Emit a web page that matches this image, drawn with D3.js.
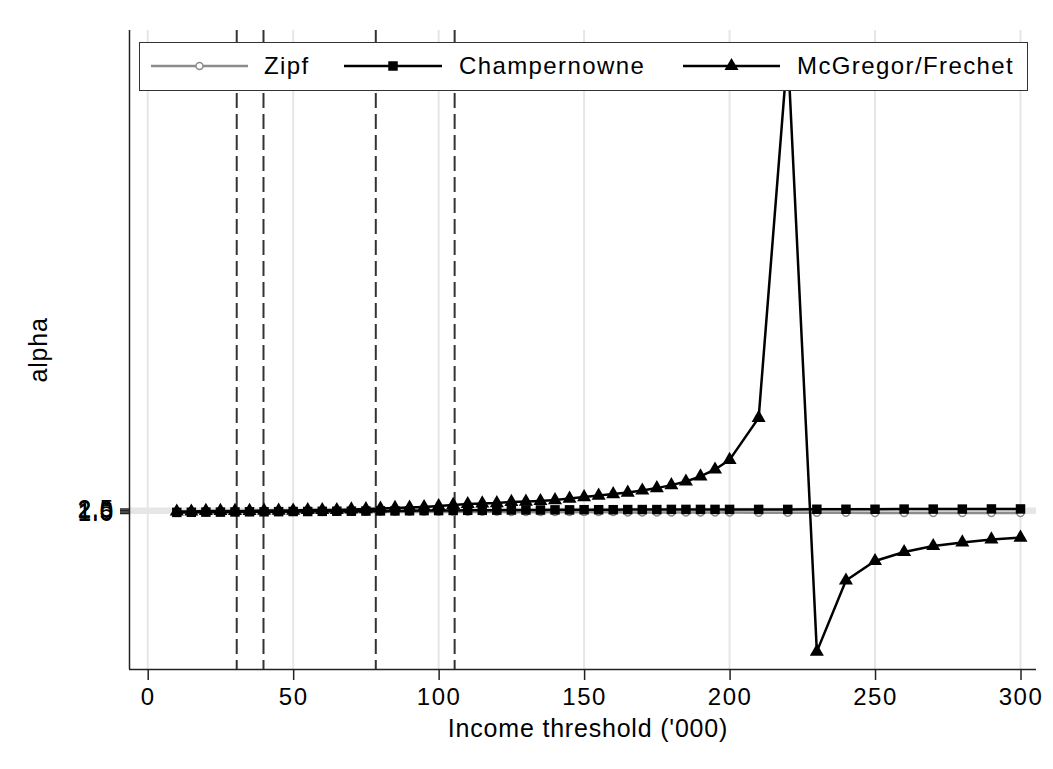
<!DOCTYPE html>
<html><head><meta charset="utf-8">
<script src="https://cdn.jsdelivr.net/npm/d3@7"></script>
<style>body{margin:0;background:#fff}svg{display:block;font-family:"Liberation Sans",Arial,sans-serif}</style>
</head><body>
<svg id="c" width="1053" height="769"></svg>
<script>
const thresholds = [10,15,20,25,30,35,40,45,50,55,60,65,70,75,80,85,90,95,100,105,110,115,120,125,130,135,140,145,150,155,160,165,170,175,180,185,190,195,200,210,220,230,240,250,260,270,280,290,300];
const zipf = [1.2,1.2,1.2,1.2,1.3,1.3,1.3,1.3,1.3,1.3,1.3,1.4,1.4,1.4,1.4,1.4,1.4,1.4,1.4,1.4,1.4,1.4,1.4,1.3,1.3,1.3,1.3,1.3,1.3,1.3,1.3,1.2,1.2,1.2,1.2,1.2,1.2,1.2,1.2,1.1,1.1,1.1,1.1,1.0,1.0,1.0,1.0,1.0,1.0];
const champernowne = [1.2,1.25,1.3,1.3,1.35,1.4,1.4,1.45,1.5,1.5,1.55,1.6,1.6,1.65,1.7,1.7,1.75,1.8,1.8,1.85,1.9,1.9,1.95,2.0,2.0,2.0,2.05,2.05,2.1,2.1,2.1,2.15,2.15,2.15,2.2,2.2,2.2,2.2,2.2,2.2,2.2,2.25,2.25,2.25,2.3,2.3,2.3,2.35,2.35];
const mcgregor = [1.5,1.5,1.7,1.7,1.7,1.7,1.8,1.8,1.8,2.0,2.0,2.0,2.2,2.3,2.5,2.7,2.8,3.0,3.3,3.7,4.0,4.2,4.3,4.7,4.8,5.0,5.3,5.8,6.3,6.8,7.3,7.8,8.5,9.3,10.3,11.5,13.2,15.5,18.7,32.7,155.3,-45.2,-21.5,-15.0,-12.0,-10.0,-8.8,-7.8,-7.2];
const xTicks = [0,50,100,150,200,250,300];
const yTicks = [1.0,1.5,2.0,2.5];
const yTickLabels = ["1.0","1.5","2.0","2.5"];
const cutoffs = [30.6,39.8,78.4,105.5];
const seriesNames = ["Zipf","Champernowne","McGregor/Frechet"];

const svg = d3.select("#c");
const L=129, R=1036, T=30, B=669;
const x = d3.scaleLinear().domain([0,300]).range([147.7,1020.5]);
const y = d3.scaleLinear().domain([-51,162]).range([B,T]);

// grid
svg.append("g").selectAll("line").data(xTicks).join("line")
  .attr("x1",d=>x(d)).attr("x2",d=>x(d)).attr("y1",T).attr("y2",B)
  .attr("stroke","#e6e6e6").attr("stroke-width",2);
svg.append("g").selectAll("line").data(yTicks).join("line")
  .attr("x1",L).attr("x2",R).attr("y1",d=>y(d)).attr("y2",d=>y(d))
  .attr("stroke","#e6e6e6").attr("stroke-width",2);

// dashed cutoffs
svg.append("g").selectAll("line").data(cutoffs).join("line")
  .attr("x1",d=>x(d)).attr("x2",d=>x(d)).attr("y1",T).attr("y2",B)
  .attr("stroke","#333").attr("stroke-width",2).attr("stroke-dasharray","15,6");

// axes
const xAxis = svg.append("g").attr("transform",`translate(0,${B})`)
  .call(d3.axisBottom(x).tickValues(xTicks).tickSize(11).tickPadding(8).tickSizeOuter(0));
xAxis.select(".domain").attr("d",`M${L},0.5H${R}`).attr("stroke","#222").attr("stroke-width",1.5);
xAxis.selectAll(".tick line").attr("stroke","#222").attr("stroke-width",1.5);
xAxis.selectAll("text").attr("font-size",24).attr("letter-spacing","1.5px").attr("fill","#000").attr("dy","0.72em");

const yAxis = svg.append("g").attr("transform",`translate(${L},0)`)
  .call(d3.axisLeft(y).tickValues(yTicks).tickFormat((d,i)=>yTickLabels[i]).tickSize(9).tickPadding(6).tickSizeOuter(0));
yAxis.select(".domain").attr("d",`M0.5,${T}V${B}`).attr("stroke","#222").attr("stroke-width",1.5);
yAxis.selectAll(".tick line").attr("stroke","#222").attr("stroke-width",1.5);
yAxis.selectAll("text").attr("font-size",24).attr("letter-spacing","1px").attr("fill","#000");

svg.append("text").attr("x",588).attr("y",737).attr("text-anchor","middle").attr("font-size",25).attr("letter-spacing","0.8px").text("Income threshold ('000)");
svg.append("text").attr("transform","translate(47,350) rotate(-90)").attr("text-anchor","middle").attr("font-size",25).attr("letter-spacing","0.8px").text("alpha");

const line = d3.line().x((d,i)=>x(thresholds[i])).y(d=>y(d));
const tri = d3.symbol().type(d3.symbolTriangle).size(85);
const sq = d3.symbol().type(d3.symbolSquare).size(90);

// Zipf
svg.append("path").datum(zipf).attr("d",line).attr("fill","none").attr("stroke","#8c8c8c").attr("stroke-width",2.5);
svg.append("g").selectAll("circle").data(zipf).join("circle")
  .attr("cx",(d,i)=>x(thresholds[i])).attr("cy",d=>y(d)).attr("r",3.5)
  .attr("fill","#fff").attr("stroke","#8c8c8c").attr("stroke-width",1.5);
// Champernowne
svg.append("path").datum(champernowne).attr("d",line).attr("fill","none").attr("stroke","#000").attr("stroke-width",2.5);
svg.append("g").selectAll("path").data(champernowne).join("path")
  .attr("d",sq).attr("transform",(d,i)=>`translate(${x(thresholds[i])},${y(d)})`).attr("fill","#000");
// McGregor
svg.append("path").datum(mcgregor).attr("d",line).attr("fill","none").attr("stroke","#000").attr("stroke-width",2.5);
svg.append("g").selectAll("path").data(mcgregor).join("path")
  .attr("d",tri).attr("transform",(d,i)=>`translate(${x(thresholds[i])},${y(d)})`).attr("fill","#000");

// legend
const lg = svg.append("g");
lg.append("rect").attr("x",139.5).attr("y",42.5).attr("width",888).attr("height",48)
  .attr("fill","#fff").attr("stroke","#333").attr("stroke-width",1);
const items = [
  {x0:151,x1:248,tx:264,color:"#8c8c8c",m:"c"},
  {x0:344,x1:442,tx:459,color:"#000",m:"s"},
  {x0:683,x1:780,tx:797,color:"#000",m:"t"}];
const ly = 66;
items.forEach((it,i)=>{
  lg.append("line").attr("x1",it.x0).attr("x2",it.x1).attr("y1",ly).attr("y2",ly).attr("stroke",it.color).attr("stroke-width",2.5);
  const cx=(it.x0+it.x1)/2;
  if(it.m==="c") lg.append("circle").attr("cx",cx).attr("cy",ly).attr("r",3.5).attr("fill","#fff").attr("stroke",it.color).attr("stroke-width",1.5);
  if(it.m==="s") lg.append("path").attr("d",sq).attr("transform",`translate(${cx},${ly})`).attr("fill","#000");
  if(it.m==="t") lg.append("path").attr("d",tri).attr("transform",`translate(${cx},${ly})`).attr("fill","#000");
  lg.append("text").attr("x",it.tx).attr("y",ly+8).attr("font-size",24).attr("letter-spacing","1.4px").text(seriesNames[i]);
});
</script>
</body></html>
